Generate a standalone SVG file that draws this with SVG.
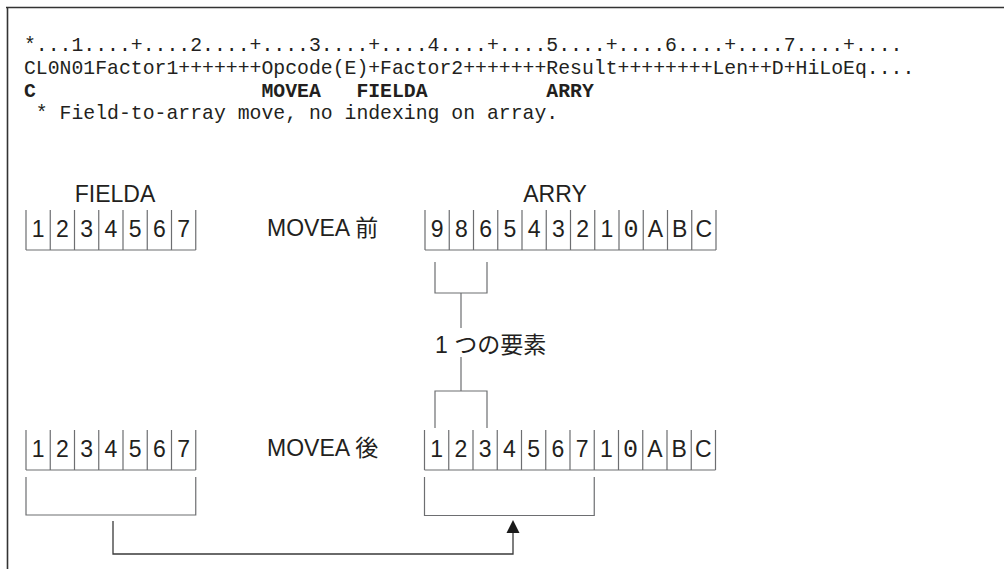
<svg xmlns="http://www.w3.org/2000/svg" width="1004" height="569" viewBox="0 0 1004 569">
<style>
.code{font-family:"Liberation Mono","DejaVu Sans Mono",monospace;font-size:19.8px;fill:#231f20}
.bold{font-weight:bold}
.lbl{font-family:"Liberation Sans",Arial,"Noto Sans CJK JP",sans-serif;font-size:23px;fill:#231f20}
.dg{font-family:"Liberation Sans",Arial,sans-serif;font-size:23px;fill:#231f20}
.z{font-family:"Liberation Mono","DejaVu Sans Mono",monospace;font-size:25px}
.cell{fill:none;stroke:#6d6e71;stroke-width:1.2}
.br{fill:none;stroke:#6d6e71;stroke-width:1.2}
.conn{fill:none;stroke:#3a3a3a;stroke-width:1.3}
.frame{fill:none;stroke:#333;stroke-width:1.6}
</style>
<rect width="1004" height="569" fill="#fff"/>
<path class="frame" d="M6,7.5H1004M7.5,7V569"/>
<g id="code">
<text class="code" x="24" y="51">*...1....+....2....+....3....+....4....+....5....+....6....+....7....+....</text>
<text class="code" x="24" y="74">CL0N01Factor1+++++++Opcode(E)+Factor2+++++++Result++++++++Len++D+HiLoEq....</text>
<text class="code bold" x="24" y="97" xml:space="preserve">C                   MOVEA   FIELDA          ARRY</text>
<text class="code" x="24" y="119" xml:space="preserve"> * Field-to-array move, no indexing on array.</text>
</g>
<g id="fielda-before">
<text class="lbl" x="115" y="202" text-anchor="middle">FIELDA</text>
<path class="cell" d="M26,210V250M50.25,210V250M74.5,210V250M98.75,210V250M123,210V250M147.25,210V250M171.5,210V250M195.75,210V250M26,250H195.75"/>
<g class="dg" text-anchor="middle">
<text x="38.1" y="237">1</text><text x="62.4" y="237">2</text><text x="86.6" y="237">3</text><text x="110.9" y="237">4</text><text x="135.1" y="237">5</text><text x="159.4" y="237">6</text><text x="183.6" y="237">7</text>
</g>
</g>
<g id="movea-before"><text class="lbl" x="267" y="236">MOVEA 前</text></g>
<g id="arry-before">
<text class="lbl" x="555" y="202" text-anchor="middle">ARRY</text>
<path class="cell" d="M425,210V250M449.25,210V250M473.5,210V250M497.75,210V250M522,210V250M546.25,210V250M570.5,210V250M594.75,210V250M619,210V250M643.25,210V250M667.5,210V250M691.75,210V250M716,210V250M425,250H716"/>
<g class="dg" text-anchor="middle">
<text x="437.1" y="237">9</text><text x="461.4" y="237">8</text><text x="485.6" y="237">6</text><text x="509.9" y="237">5</text><text x="534.1" y="237">4</text><text x="558.4" y="237">3</text><text x="582.6" y="237">2</text><text x="606.9" y="237">1</text><text class="z" x="631.1" y="237">0</text><text x="655.4" y="237">A</text><text x="679.6" y="237">B</text><text x="703.9" y="237">C</text>
</g>
</g>
<g id="element-label"><text class="lbl" x="435" y="353">1 つの要素</text></g>
<g id="fielda-after">
<path class="cell" d="M26,430V470M50.25,430V470M74.5,430V470M98.75,430V470M123,430V470M147.25,430V470M171.5,430V470M195.75,430V470M26,470H195.75"/>
<g class="dg" text-anchor="middle">
<text x="38.1" y="457">1</text><text x="62.4" y="457">2</text><text x="86.6" y="457">3</text><text x="110.9" y="457">4</text><text x="135.1" y="457">5</text><text x="159.4" y="457">6</text><text x="183.6" y="457">7</text>
</g>
</g>
<g id="movea-after"><text class="lbl" x="267" y="456">MOVEA 後</text></g>
<g id="arry-after">
<path class="cell" d="M424.5,430V470M448.75,430V470M473,430V470M497.25,430V470M521.5,430V470M545.75,430V470M570,430V470M594.25,430V470M618.5,430V470M642.75,430V470M667,430V470M691.25,430V470M715.5,430V470M424.5,470H715.5"/>
<g class="dg" text-anchor="middle">
<text x="436.6" y="457">1</text><text x="460.9" y="457">2</text><text x="485.1" y="457">3</text><text x="509.4" y="457">4</text><text x="533.6" y="457">5</text><text x="557.9" y="457">6</text><text x="582.1" y="457">7</text><text x="606.4" y="457">1</text><text class="z" x="630.6" y="457">0</text><text x="654.9" y="457">A</text><text x="679.1" y="457">B</text><text x="703.4" y="457">C</text>
</g>
</g>
<g id="connectors">
<path class="br" d="M435,262V293H487V262M461,293V328M461,357V391M435,428V391H487V428"/>
<path class="br" d="M26,477V515H195.75V477M424.5,477V515.5H594.25V477"/>
<path class="conn" d="M113,521V554H513V532"/>
<path d="M513,520L506.5,533H519.5Z" fill="#1a1a1a"/>
</g>
</svg>
